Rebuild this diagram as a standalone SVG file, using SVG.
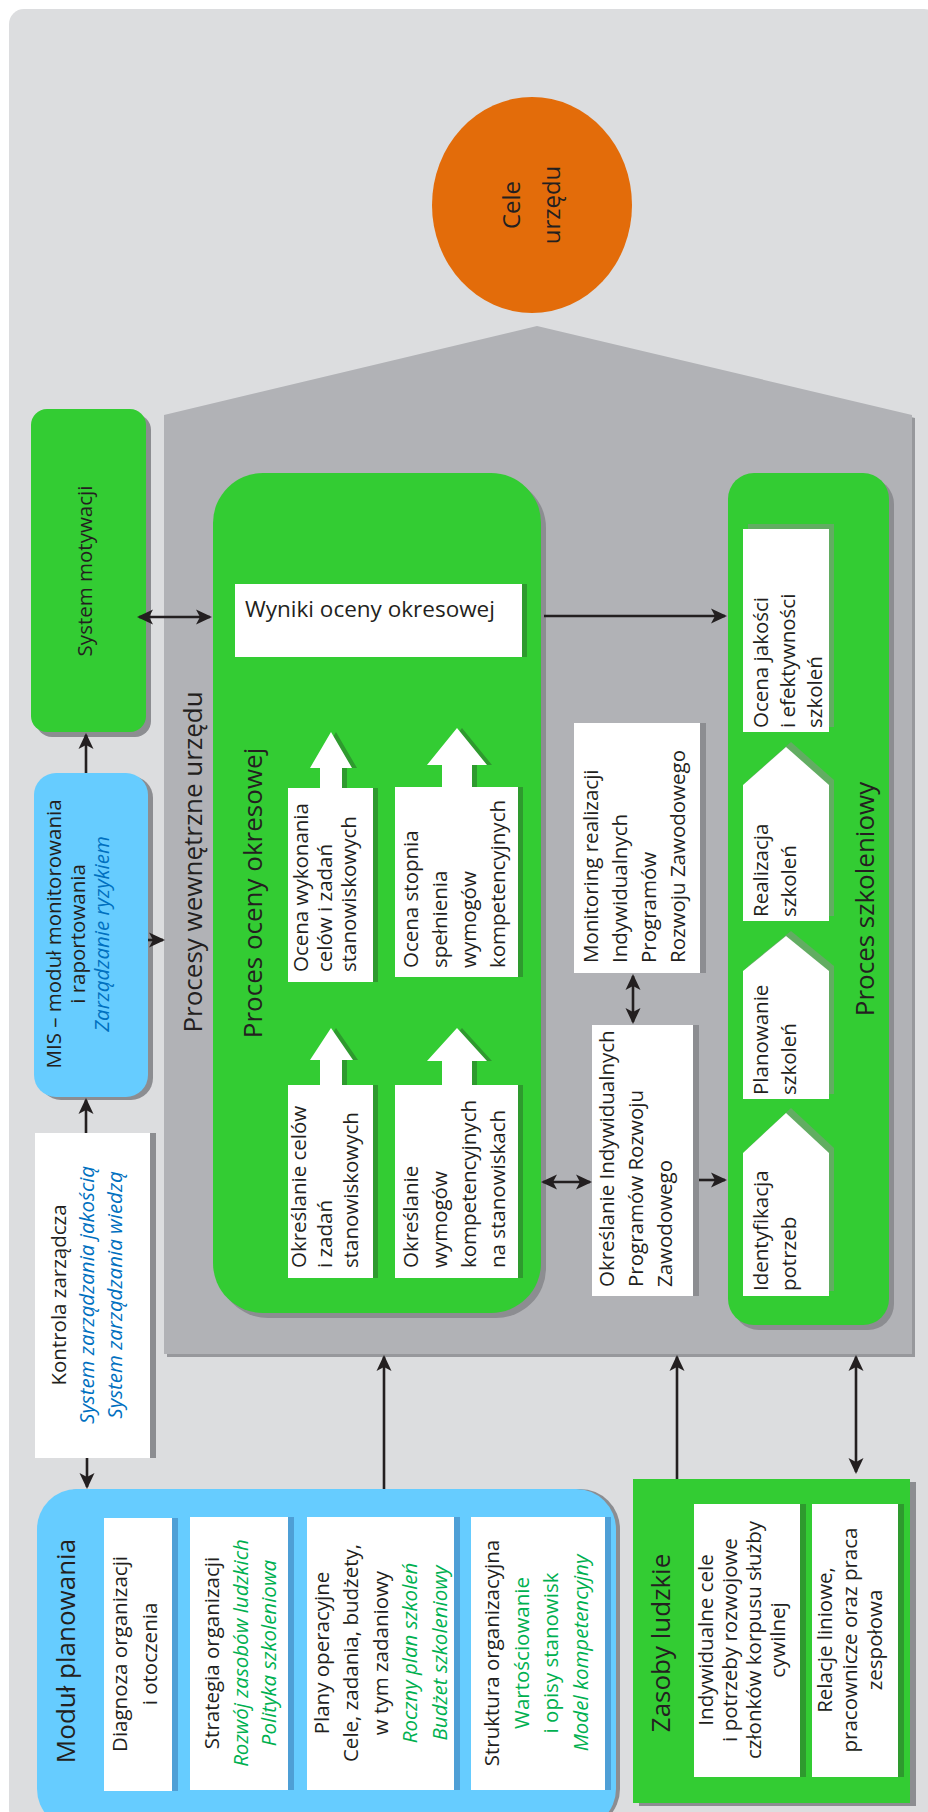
<svg xmlns="http://www.w3.org/2000/svg" width="928" height="1812" viewBox="0 0 928 1812">
<defs>
<style>
.t{font-family:"Open Sans","Noto Sans","DejaVu Sans",sans-serif;fill:#231f20;font-size:20.5px}
.c{text-anchor:middle}
.h{font-size:26px}
.bi{fill:#0070c0;font-style:italic}
.gi{fill:#00b050;font-style:italic}
.g{fill:#00b050}
.grn{fill:#33cc33}
.blu{fill:#66ccff}
.wh{fill:#ffffff}
.sh{fill:#8c8d91}
.dg{fill:#2e9a2e}
.lg{fill:#62ad62}
.bs{fill:#4e9fd6}
.ln{stroke:#231f20;stroke-width:2.6;fill:none;marker-end:url(#ah)}
.dbl{marker-start:url(#ah)}
</style>
<marker id="ah" viewBox="0 0 16 16" refX="14" refY="8" markerWidth="16" markerHeight="16" markerUnits="userSpaceOnUse" orient="auto-start-reverse">
<path d="M0,0.5 L16,8 L0,15.5 L4,8 Z" fill="#231f20"/>
</marker>
</defs>

<rect x="9" y="9" width="930" height="1815" rx="15" fill="#dcdddf"/>

<g id="cele">
<ellipse cx="532" cy="205" rx="100" ry="108" fill="#e36c0a"/>
<text class="t c" style="font-size:24px" transform="translate(0,205) rotate(-90)"><tspan x="0" y="520">Cele</tspan><tspan x="0" y="560">urzędu</tspan></text>
</g>

<g id="procesy">
<polygon points="167,418 540,329 915,418 915,1357 167,1357" fill="#97989c"/>
<polygon points="164,415 537,326 912,415 912,1354 164,1354" fill="#b1b2b6"/>
<text class="t c h" transform="translate(202,862) rotate(-90)">Procesy wewnętrzne urzędu</text>
</g>

<g id="system-motywacji">
<rect x="36" y="414" width="115" height="323" rx="16" class="sh"/>
<rect x="31" y="409" width="115" height="323" rx="16" class="grn"/>
<text class="t c" transform="translate(92,571) rotate(-90)">System motywacji</text>
</g>

<g id="mis">
<rect x="39" y="776" width="114" height="324" rx="22" class="sh"/>
<rect x="34" y="773" width="114" height="324" rx="22" class="blu"/>
<text class="t c" transform="translate(0,934) rotate(-90)"><tspan x="0" y="61">MIS – moduł monitorowania</tspan><tspan x="0" y="85">i raportowania</tspan><tspan x="0" y="109" class="bi">Zarządzanie ryzykiem</tspan></text>
</g>

<g id="kontrola">
<rect x="41" y="1133" width="115" height="325" class="sh"/>
<rect x="35" y="1133" width="115" height="325" class="wh"/>
<text class="t c" transform="translate(0,1295) rotate(-90)"><tspan x="0" y="66">Kontrola zarządcza</tspan><tspan x="0" y="94" class="bi">System zarządzania jakością</tspan><tspan x="0" y="122" class="bi">System zarządzania wiedzą</tspan></text>
</g>

<g id="modul-planowania">
<rect x="41" y="1489" width="579" height="340" rx="40" class="sh"/>
<rect x="37" y="1489" width="579" height="340" rx="40" class="blu"/>
<text class="t c h" transform="translate(75,1651) rotate(-90)">Moduł planowania</text>
<rect x="110" y="1518" width="68" height="273" class="bs"/>
<rect x="104" y="1518" width="68" height="273" class="wh"/>
<text class="t c" transform="translate(0,1654) rotate(-90)"><tspan x="0" y="127">Diagnoza organizacji</tspan><tspan x="0" y="157">i otoczenia</tspan></text>
<rect x="196" y="1517" width="98" height="273" class="bs"/>
<rect x="190" y="1517" width="98" height="273" class="wh"/>
<text class="t c" transform="translate(0,1653) rotate(-90)"><tspan x="0" y="219">Strategia organizacji</tspan><tspan x="0" y="248" class="gi">Rozwój zasobów ludzkich</tspan><tspan x="0" y="276" class="gi">Polityka szkoleniowa</tspan></text>
<rect x="313" y="1517" width="147" height="273" class="bs"/>
<rect x="307" y="1517" width="147" height="273" class="wh"/>
<text class="t c" transform="translate(0,1653) rotate(-90)"><tspan x="0" y="329">Plany operacyjne</tspan><tspan x="0" y="358">Cele, zadania, budżety,</tspan><tspan x="0" y="388">w tym zadaniowy</tspan><tspan x="0" y="417" class="gi">Roczny plan szkoleń</tspan><tspan x="0" y="447" class="gi">Budżet szkoleniowy</tspan></text>
<rect x="477" y="1517" width="134" height="273" class="bs"/>
<rect x="471" y="1517" width="134" height="273" class="wh"/>
<text class="t c" transform="translate(0,1653) rotate(-90)"><tspan x="0" y="499">Struktura organizacyjna</tspan><tspan x="0" y="529" class="g">Wartościowanie</tspan><tspan x="0" y="558" class="g">i opisy stanowisk</tspan><tspan x="0" y="588" class="gi">Model kompetencyjny</tspan></text>
</g>

<g id="zasoby-ludzkie">
<rect x="639" y="1482" width="277" height="324" class="sh"/>
<rect x="633" y="1479" width="277" height="324" class="grn"/>
<text class="t c h" transform="translate(670,1643) rotate(-90)">Zasoby ludzkie</text>
<rect x="700" y="1504" width="106" height="273" class="dg"/>
<rect x="694" y="1504" width="106" height="273" class="wh"/>
<text class="t c" transform="translate(0,1640) rotate(-90)"><tspan x="0" y="713">Indywidualne cele</tspan><tspan x="0" y="737">i potrzeby rozwojowe</tspan><tspan x="0" y="761">członków korpusu służby</tspan><tspan x="0" y="785">cywilnej</tspan></text>
<rect x="818" y="1504" width="86" height="273" class="dg"/>
<rect x="812" y="1504" width="86" height="273" class="wh"/>
<text class="t c" transform="translate(0,1640) rotate(-90)"><tspan x="0" y="832">Relacje liniowe,</tspan><tspan x="0" y="857">pracownicze oraz praca</tspan><tspan x="0" y="882">zespołowa</tspan></text>
</g>

<g id="proces-oceny-okresowej">
<rect x="218" y="478" width="328" height="840" rx="50" class="sh"/>
<rect x="213" y="473" width="328" height="840" rx="50" class="grn"/>
<text class="t c h" transform="translate(262,893) rotate(-90)">Proces oceny okresowej</text>
<rect x="240" y="584" width="287" height="73" class="dg"/>
<rect x="235" y="584" width="287" height="73" class="wh"/>
<text class="t" style="font-size:22.5px" x="245" y="617">Wyniki oceny okresowej</text>

<path class="dg" d="M325,789 L325,768 L315,768 L336,732 L357,768 L347,768 L347,789 Z"/>
<path class="wh" d="M320,789 L320,768 L310,768 L331,732 L352,768 L342,768 L342,789 Z"/>
<rect x="293" y="788" width="85" height="194" class="dg"/>
<rect x="288" y="788" width="85" height="194" class="wh"/>
<text class="t" transform="translate(0,972) rotate(-90)"><tspan x="0" y="308">Ocena wykonania</tspan><tspan x="0" y="332">celów i zadań</tspan><tspan x="0" y="356">stanowiskowych</tspan></text>

<path class="dg" d="M447,788 L447,765 L432,765 L462,728 L492,765 L477,765 L477,788 Z"/>
<path class="wh" d="M442,788 L442,765 L427,765 L457,728 L487,765 L472,765 L472,788 Z"/>
<rect x="400" y="787" width="123" height="190" class="dg"/>
<rect x="395" y="787" width="123" height="190" class="wh"/>
<text class="t" transform="translate(0,968) rotate(-90)"><tspan x="0" y="418">Ocena stopnia</tspan><tspan x="0" y="447">spełnienia</tspan><tspan x="0" y="476">wymogów</tspan><tspan x="0" y="505">kompetencyjnych</tspan></text>

<path class="dg" d="M325,1086 L325,1060 L315,1060 L336,1028 L358,1060 L347,1060 L347,1086 Z"/>
<path class="wh" d="M320,1086 L320,1060 L310,1060 L331,1028 L353,1060 L342,1060 L342,1086 Z"/>
<rect x="293" y="1085" width="85" height="193" class="dg"/>
<rect x="288" y="1085" width="85" height="193" class="wh"/>
<text class="t" transform="translate(0,1268) rotate(-90)"><tspan x="0" y="306">Określanie celów</tspan><tspan x="0" y="332">i zadań</tspan><tspan x="0" y="358">stanowiskowych</tspan></text>

<path class="dg" d="M447,1086 L447,1061 L432,1061 L462,1028 L492,1061 L477,1061 L477,1086 Z"/>
<path class="wh" d="M442,1086 L442,1061 L427,1061 L457,1028 L487,1061 L472,1061 L472,1086 Z"/>
<rect x="400" y="1085" width="123" height="193" class="dg"/>
<rect x="395" y="1085" width="123" height="193" class="wh"/>
<text class="t" transform="translate(0,1268) rotate(-90)"><tspan x="0" y="418">Określanie</tspan><tspan x="0" y="447">wymogów</tspan><tspan x="0" y="476">kompetencyjnych</tspan><tspan x="0" y="505">na stanowiskach</tspan></text>
</g>

<g id="monitoring">
<rect x="580" y="723" width="126" height="250" class="sh"/>
<rect x="574" y="723" width="126" height="250" class="wh"/>
<text class="t" transform="translate(0,963) rotate(-90)"><tspan x="0" y="598">Monitoring realizacji</tspan><tspan x="0" y="627">Indywidualnych</tspan><tspan x="0" y="656">Programów</tspan><tspan x="0" y="685">Rozwoju Zawodowego</tspan></text>
</g>

<g id="okreslanie-iprz">
<rect x="598" y="1025" width="101" height="271" class="sh"/>
<rect x="592" y="1025" width="101" height="271" class="wh"/>
<text class="t" transform="translate(0,1287) rotate(-90)"><tspan x="0" y="614">Określanie Indywidualnych</tspan><tspan x="0" y="643">Programów Rozwoju</tspan><tspan x="0" y="672">Zawodowego</tspan></text>
</g>

<g id="proces-szkoleniowy">
<rect x="733" y="478" width="161" height="852" rx="26" class="sh"/>
<rect x="728" y="473" width="161" height="852" rx="26" class="grn"/>
<text class="t c h" transform="translate(874,899) rotate(-90)">Proces szkoleniowy</text>
<rect x="748" y="524" width="86" height="203" class="lg"/>
<rect x="743" y="529" width="86" height="203" class="wh"/>
<text class="t" transform="translate(0,728) rotate(-90)"><tspan x="0" y="768">Ocena jakości</tspan><tspan x="0" y="795">i efektywności</tspan><tspan x="0" y="822">szkoleń</tspan></text>
<polygon class="lg" points="748,916 748,780 791,742 834,780 834,916"/>
<polygon class="wh" points="743,921 743,785 786,747 829,785 829,921"/>
<text class="t" transform="translate(0,917) rotate(-90)"><tspan x="0" y="768">Realizacja</tspan><tspan x="0" y="796">szkoleń</tspan></text>
<polygon class="lg" points="748,1094 748,966 791,931 834,966 834,1094"/>
<polygon class="wh" points="743,1099 743,971 786,936 829,971 829,1099"/>
<text class="t" transform="translate(0,1095) rotate(-90)"><tspan x="0" y="768">Planowanie</tspan><tspan x="0" y="796">szkoleń</tspan></text>
<polygon class="lg" points="748,1291 748,1148 791,1108 834,1148 834,1291"/>
<polygon class="wh" points="743,1296 743,1153 786,1113 829,1153 829,1296"/>
<text class="t" transform="translate(0,1291) rotate(-90)"><tspan x="0" y="768">Identyfikacja</tspan><tspan x="0" y="796">potrzeb</tspan></text>
</g>

<g id="connectors">
<path class="ln" d="M86,773 L86,735"/>
<path class="ln" d="M86,1133 L86,1100"/>
<path class="ln" d="M87,1458 L87,1487"/>
<path class="ln" d="M148,940 L163,940"/>
<path class="ln dbl" d="M139,617 L210,617"/>
<path class="ln" d="M544,616 L725,616"/>
<path class="ln dbl" d="M543,1182 L590,1182"/>
<path class="ln" d="M699,1180 L725,1180"/>
<path class="ln dbl" d="M633,976 L633,1022"/>
<path class="ln" d="M384,1489 L384,1357"/>
<path class="ln" d="M677,1479 L677,1357"/>
<path class="ln dbl" d="M856,1357 L856,1472"/>
</g>
</svg>
